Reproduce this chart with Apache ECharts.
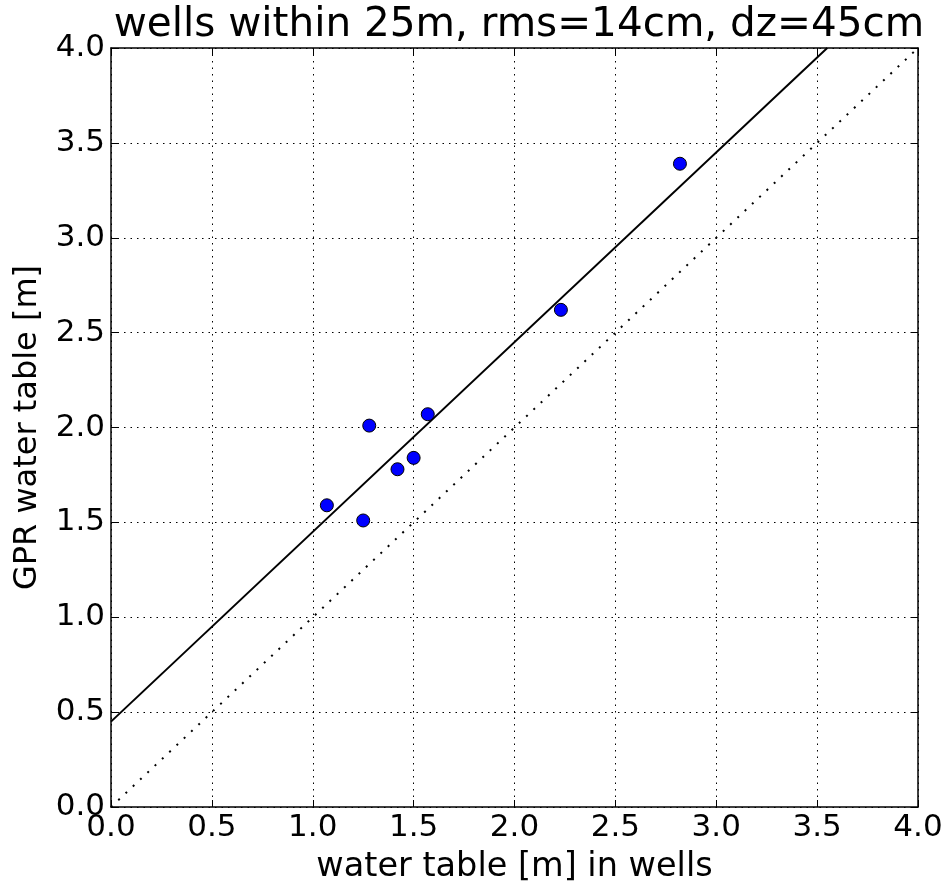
<!DOCTYPE html>
<html><head><meta charset="utf-8">
<script src="https://cdn.jsdelivr.net/npm/echarts@6/dist/echarts.min.js"></script>
<style>html,body{margin:0;padding:0;background:#fff}#c{width:949px;height:882px}</style>
</head><body><div id="c"></div>
<script>
var wellDepth = [1.07, 1.25, 1.28, 1.42, 1.50, 1.57, 2.23, 2.82];
var gprDepth  = [1.59, 1.51, 2.01, 1.78, 1.84, 2.07, 2.62, 3.39];
var fitLineX = [0, 3.55];
var fitLineY = [0.45, 4.0];
var oneToOneX = [0, 4];
var oneToOneY = [0, 4];
var tickLabels = ['0.0','0.5','1.0','1.5','2.0','2.5','3.0','3.5','4.0'];
var titleText = 'wells within 25m, rms=14cm, dz=45cm';

var FONT = 'DejaVu Sans';
function pairs(xs, ys){ return xs.map(function(x,i){ return [x, ys[i]]; }); }
function lbl(v){ var i = Math.round(v/0.5); return tickLabels[i] !== undefined ? tickLabels[i] : ''; }

var chart = echarts.init(document.getElementById('c'));
var axisCommon = {
  type: 'value', min: 0, max: 4, interval: 0.5,
  axisLine: { show: true, onZero: false, lineStyle: { color: '#000', width: 1.5 } },
  axisTick: { show: true, inside: true, length: 7, lineStyle: { color: '#000', width: 1 } }
};
chart.setOption({
  animation: false,
  backgroundColor: '#fff',
  title: { text: titleText, left: 514, top: 0, textAlign: 'center',
    textStyle: { fontFamily: FONT, fontSize: 40.5, fontWeight: 'normal', color: '#000' } },
  grid: { left: 111, top: 48, right: 31, bottom: 75, containLabel: false, outerBoundsMode: 'none' },
  xAxis: [
    Object.assign({}, axisCommon, {
      position: 'bottom',
      name: 'water table [m] in wells', nameLocation: 'middle', nameGap: 43,
      nameTextStyle: { fontFamily: FONT, fontSize: 33.5, color: '#000' },
      axisLabel: { fontFamily: FONT, fontSize: 31, color: '#000', margin: 5, formatter: lbl },
      splitLine: { show: true, lineStyle: { color: '#000', width: 1, type: [1.5, 5] } }
    }),
    Object.assign({}, axisCommon, { position: 'top', axisLabel: { show: false }, splitLine: { show: false } })
  ],
  yAxis: [
    Object.assign({}, axisCommon, {
      position: 'left',
      name: 'GPR water table [m]', nameLocation: 'middle', nameGap: 67, nameRotate: 90,
      nameTextStyle: { fontFamily: FONT, fontSize: 32, color: '#000' },
      axisLabel: { fontFamily: FONT, fontSize: 31, color: '#000', margin: 6, formatter: lbl },
      splitLine: { show: true, lineStyle: { color: '#000', width: 1, type: [1.5, 5] } }
    }),
    Object.assign({}, axisCommon, { position: 'right', axisLabel: { show: false }, splitLine: { show: false } })
  ],
  series: [
    { type: 'line', data: pairs(oneToOneX, oneToOneY), showSymbol: false, silent: true,
      lineStyle: { color: '#000', width: 2, type: [2, 8] }, z: 2 },
    { type: 'line', data: pairs(fitLineX, fitLineY), showSymbol: false, silent: true,
      lineStyle: { color: '#000', width: 2 }, z: 3 },
    { type: 'scatter', data: pairs(wellDepth, gprDepth), symbol: 'circle', symbolSize: 13,
      itemStyle: { color: '#0000ff', borderColor: '#000', borderWidth: 1, opacity: 1 }, z: 5 }
  ]
});
</script></body></html>
